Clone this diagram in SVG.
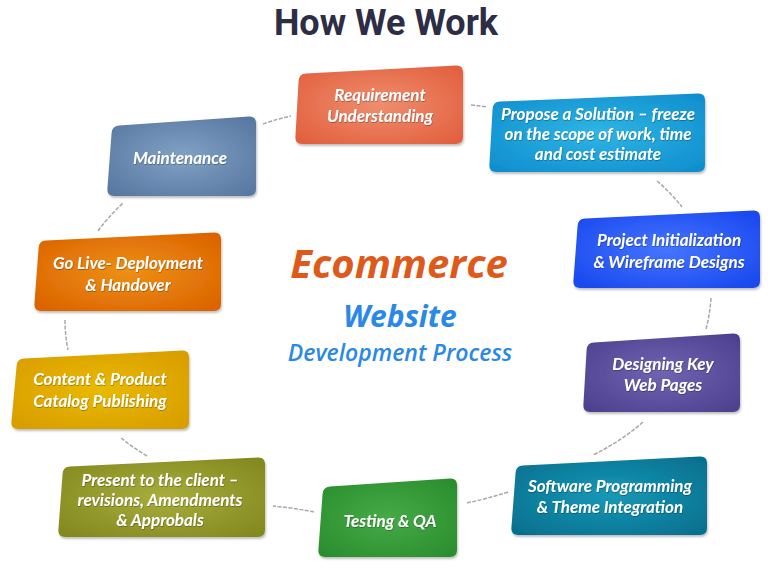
<svg xmlns="http://www.w3.org/2000/svg" width="770" height="570" viewBox="0 0 770 570">
<style>
.lbl{font-family:Lato,"Open Sans","Liberation Sans",sans-serif;font-weight:bold;font-style:italic;font-size:17px;fill:#ffffff;text-anchor:middle;filter:url(#tsh)}
.conn{fill:none;stroke:#a8a8a8;stroke-width:1.5;stroke-dasharray:4 1.5}
.box{filter:url(#sh)}
</style>
<defs>
<filter id="sh" x="-10%" y="-10%" width="120%" height="130%">
<feDropShadow dx="1" dy="2" stdDeviation="1.2" flood-color="#000" flood-opacity="0.25"/>
</filter>
<filter id="tsh" x="-5%" y="-20%" width="110%" height="150%">
<feDropShadow dx="0.5" dy="0.8" stdDeviation="0.5" flood-color="#000" flood-opacity="0.35"/>
</filter>
<radialGradient id="g1" cx="50%" cy="50%" r="65%"><stop offset="0" stop-color="#ef8e6e"/><stop offset="1" stop-color="#e2603f"/></radialGradient>
<radialGradient id="g2" cx="50%" cy="50%" r="65%"><stop offset="0" stop-color="#2fb5e4"/><stop offset="1" stop-color="#108fcf"/></radialGradient>
<radialGradient id="g3" cx="50%" cy="50%" r="65%"><stop offset="0" stop-color="#4575ff"/><stop offset="1" stop-color="#1a48ee"/></radialGradient>
<radialGradient id="g4" cx="50%" cy="50%" r="65%"><stop offset="0" stop-color="#7064b2"/><stop offset="1" stop-color="#4e418f"/></radialGradient>
<radialGradient id="g5" cx="50%" cy="50%" r="65%"><stop offset="0" stop-color="#1898b7"/><stop offset="1" stop-color="#06708f"/></radialGradient>
<radialGradient id="g6" cx="50%" cy="50%" r="65%"><stop offset="0" stop-color="#46ab46"/><stop offset="1" stop-color="#2a8e2e"/></radialGradient>
<radialGradient id="g7" cx="50%" cy="50%" r="65%"><stop offset="0" stop-color="#a8ad3c"/><stop offset="1" stop-color="#83891f"/></radialGradient>
<radialGradient id="g8" cx="50%" cy="50%" r="65%"><stop offset="0" stop-color="#e9ba00"/><stop offset="1" stop-color="#d99d00"/></radialGradient>
<radialGradient id="g9" cx="50%" cy="50%" r="65%"><stop offset="0" stop-color="#ed9014"/><stop offset="1" stop-color="#dc6300"/></radialGradient>
<radialGradient id="g10" cx="50%" cy="50%" r="65%"><stop offset="0" stop-color="#81a1c4"/><stop offset="1" stop-color="#5878a2"/></radialGradient>
</defs>
<rect width="770" height="570" fill="#ffffff"/>
<text x="386" y="35" font-family="Roboto,'Open Sans','Liberation Sans',sans-serif" font-weight="bold" font-size="36" fill="#2d2d45" text-anchor="middle">How We Work</text>

<g id="center">
<text x="399" y="278" font-family="'Open Sans','Liberation Sans',sans-serif" font-weight="bold" font-style="italic" font-size="40" fill="#de5a1a" text-anchor="middle">Ecommerce</text>
<text x="400" y="327" font-family="'Open Sans','Liberation Sans',sans-serif" font-weight="bold" font-style="italic" font-size="30" fill="#2a88e6" text-anchor="middle">Website</text>
<text x="400" y="361" font-family="'Open Sans','Liberation Sans',sans-serif" font-weight="600" font-style="italic" font-size="23" fill="#2a88e6" text-anchor="middle">Development Process</text>
</g>

<g id="connectors">
<path class="conn" d="M263,124 Q277,119 291,116"/>
<path class="conn" d="M471,105 Q479,105.5 487,107"/>
<path class="conn" d="M657,181 Q671,193 682,207"/>
<path class="conn" d="M711,298 Q710,314 706,329"/>
<path class="conn" d="M643,422 Q620,442 593,455"/>
<path class="conn" d="M508,492 Q487,499 466,503"/>
<path class="conn" d="M314,512 Q294,508 273,506"/>
<path class="conn" d="M147,456 Q132,447 120,437"/>
<path class="conn" d="M65,320 Q65,335 68,350"/>
<path class="conn" d="M98,231 Q109,216 123,203"/>
</g>

<g id="n1"><path class="box" fill="url(#g1)" d="M306,73.6 L456,65.4 Q463,65 463,72 L463,137 Q463,144 456,144 L302,144 Q295,144 295.4,137 L298.6,81 Q299,74 306,73.6 Z"/>
<text class="lbl"><tspan x="380" y="101">Requirement</tspan><tspan x="380" y="122">Understanding</tspan></text></g>

<g id="n2"><path class="box" fill="url(#g2)" d="M500,101.6 L698,93.4 Q705,93 705,100 L705,165 Q705,172 698,172 L496,172 Q489,172 489.4,165 L492.6,109 Q493,102 500,101.6 Z"/>
<text class="lbl" font-size="15"><tspan x="598" y="120">Propose a Solution – freeze</tspan><tspan x="598" y="140">on the scope of work, time</tspan><tspan x="598" y="160">and cost estimate</tspan></text></g>

<g id="n3"><path class="box" fill="url(#g3)" d="M585,218.6 L753,210.4 Q760,210 760,217 L760,281 Q760,288 753,288 L580,288 Q573,288 573.4,281 L577.6,226 Q578,219 585,218.6 Z"/>
<text class="lbl"><tspan x="669" y="246">Project Initialization</tspan><tspan x="669" y="268">&amp; Wireframe Designs</tspan></text></g>

<g id="n4"><path class="box" fill="url(#g4)" d="M594,342.6 L733,333.4 Q740,333 740,340 L740,405 Q740,412 733,412 L590,412 Q583,412 583.4,405 L586.6,350 Q587,343 594,342.6 Z"/>
<text class="lbl"><tspan x="663" y="370">Designing Key</tspan><tspan x="663" y="391">Web Pages</tspan></text></g>

<g id="n5"><path class="box" fill="url(#g5)" d="M523,465.6 L700,456.4 Q707,456 707,463 L707,528 Q707,535 700,535 L518,535 Q511,535 511.4,528 L515.6,473 Q516,466 523,465.6 Z"/>
<text class="lbl"><tspan x="610" y="492">Software Programming</tspan><tspan x="610" y="513">&amp; Theme Integration</tspan></text></g>

<g id="n6"><path class="box" fill="url(#g6)" d="M330,486.5 L450,478.5 Q457,478 457,485 L457,550 Q457,557 450,557 L325,557 Q318,557 318.4,550 L322.6,494 Q323,487 330,486.5 Z"/>
<text class="lbl" x="390" y="527">Testing &amp; QA</text></g>

<g id="n7"><path class="box" fill="url(#g7)" d="M70,466.6 L258,457.4 Q265,457 265,464 L265,530 Q265,537 258,537 L65,537 Q58,537 58.4,530 L62.6,474 Q63,467 70,466.6 Z"/>
<text class="lbl" font-size="16"><tspan x="160" y="486">Present to the client –</tspan><tspan x="160" y="506">revisions, Amendments</tspan><tspan x="160" y="526">&amp; Approbals</tspan></text></g>

<g id="n8"><path class="box" fill="url(#g8)" d="M24,358.6 L182,350.4 Q189,350 189,357 L189,422 Q189,429 182,429 L18,429 Q11,429 11.4,422 L16.6,366 Q17,359 24,358.6 Z"/>
<text class="lbl"><tspan x="100" y="385">Content &amp; Product</tspan><tspan x="100" y="407">Catalog Publishing</tspan></text></g>

<g id="n9"><path class="box" fill="url(#g9)" d="M46,240.6 L214,232.4 Q221,232 221,239 L221,304 Q221,311 214,311 L41,311 Q34,311 34.4,304 L38.6,248 Q39,241 46,240.6 Z"/>
<text class="lbl"><tspan x="128" y="269">Go Live- Deployment</tspan><tspan x="128" y="291">&amp; Handover</tspan></text></g>

<g id="n10"><path class="box" fill="url(#g10)" d="M119,125.5 L249,116.5 Q256,116 256,123 L256,189 Q256,196 249,196 L114,196 Q107,196 107.4,189 L111.6,133 Q112,126 119,125.5 Z"/>
<text class="lbl" x="180" y="164">Maintenance</text></g>
</svg>
